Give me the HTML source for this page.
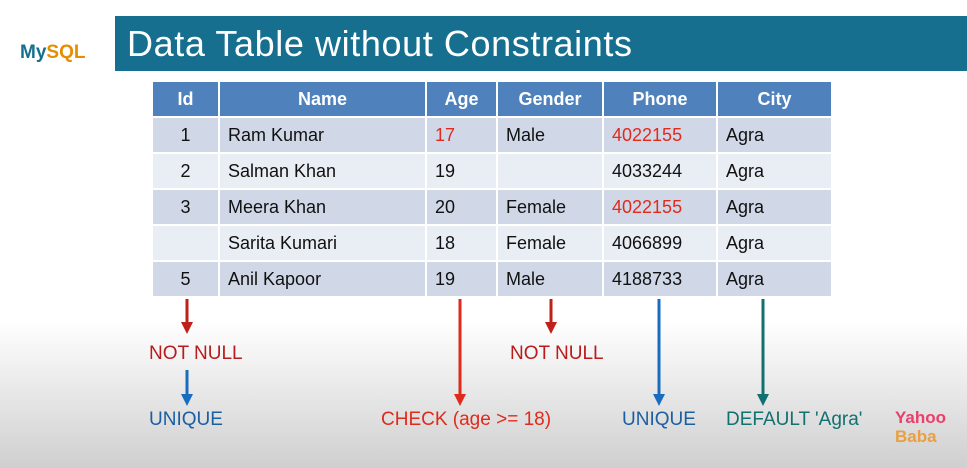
<!DOCTYPE html>
<html><head><meta charset="utf-8"><style>
*{margin:0;padding:0;box-sizing:border-box}
body{width:967px;height:468px;overflow:hidden;font-family:"Liberation Sans",sans-serif;background:linear-gradient(to bottom,#fff 0,#fff 320px,#ececec 380px,#cfcfcf 468px);position:relative}
.abs{position:absolute}
#hdr{left:115px;top:16px;width:852px;height:55px;background:#176f90;color:#fff;font-size:36px;padding-left:12px;line-height:55px;letter-spacing:0.6px}
table{position:absolute;left:151px;top:80px;border-collapse:collapse;font-size:18px}
td,th{border:2px solid #fff;height:36px;padding:0 8px}
th{background:#4f81bd;color:#fff;font-weight:bold;text-align:center}
tr.o td{background:#d0d8e8}tr.e td{background:#e9edf4}
td{color:#111}
.c{text-align:center}.r{color:#e02a1c}
.lbl{position:absolute;font-size:19px;white-space:nowrap}
</style></head><body>
<div class="abs" style="left:20px;top:42px;font-size:19px;font-weight:bold;color:#176f90">My<span style="color:#e48e00">SQL</span></div>
<div id="hdr" class="abs">Data Table without Constraints</div>
<table>
<tr><th style="width:67px">Id</th><th style="width:207px">Name</th><th style="width:71px">Age</th><th style="width:106px">Gender</th><th style="width:114px">Phone</th><th style="width:115px">City</th></tr>
<tr class="o"><td class="c">1</td><td>Ram Kumar</td><td class="r">17</td><td>Male</td><td class="r">4022155</td><td>Agra</td></tr>
<tr class="e"><td class="c">2</td><td>Salman Khan</td><td>19</td><td></td><td>4033244</td><td>Agra</td></tr>
<tr class="o"><td class="c">3</td><td>Meera Khan</td><td>20</td><td>Female</td><td class="r">4022155</td><td>Agra</td></tr>
<tr class="e"><td class="c"></td><td>Sarita Kumari</td><td>18</td><td>Female</td><td>4066899</td><td>Agra</td></tr>
<tr class="o"><td class="c">5</td><td>Anil Kapoor</td><td>19</td><td>Male</td><td>4188733</td><td>Agra</td></tr>
</table>
<svg class="abs" style="left:0;top:0" width="967" height="468">
<g stroke-width="3">
<line x1="187" y1="299" x2="187" y2="324" stroke="#c0201a"/><polygon points="181,322 193,322 187,334" fill="#c0201a"/>
<line x1="187" y1="370" x2="187" y2="396" stroke="#1a6cc0"/><polygon points="181,394 193,394 187,406" fill="#1a6cc0"/>
<line x1="460" y1="299" x2="460" y2="396" stroke="#e02a1c"/><polygon points="454,394 466,394 460,406" fill="#e02a1c"/>
<line x1="551" y1="299" x2="551" y2="324" stroke="#c0201a"/><polygon points="545,322 557,322 551,334" fill="#c0201a"/>
<line x1="659" y1="299" x2="659" y2="396" stroke="#1a6cc0"/><polygon points="653,394 665,394 659,406" fill="#1a6cc0"/>
<line x1="763" y1="299" x2="763" y2="396" stroke="#137070"/><polygon points="757,394 769,394 763,406" fill="#137070"/>
</g></svg>
<div class="lbl" style="left:149px;top:343px;color:#b81c1c">NOT NULL</div>
<div class="lbl" style="left:149px;top:409px;color:#1b5fa3">UNIQUE</div>
<div class="lbl" style="left:381px;top:409px;color:#e02a1c">CHECK (age &gt;= 18)</div>
<div class="lbl" style="left:510px;top:343px;color:#b81c1c">NOT NULL</div>
<div class="lbl" style="left:622px;top:409px;color:#1b5fa3">UNIQUE</div>
<div class="lbl" style="left:726px;top:409px;color:#137070">DEFAULT 'Agra'</div>
<div class="abs" style="left:895px;top:408px;font-size:17px;font-weight:bold;line-height:19px"><span style="color:#e8406a">Yahoo</span><br><span style="color:#e8a040">Baba</span></div>
</body></html>
